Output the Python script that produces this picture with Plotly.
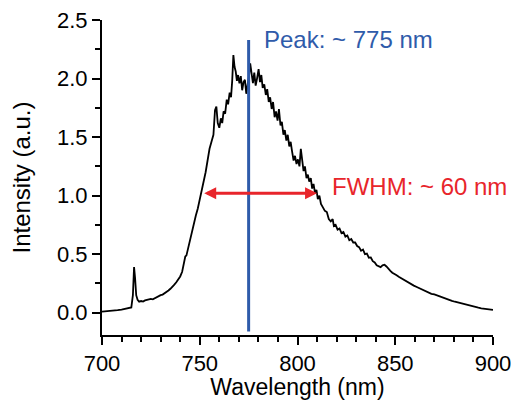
import plotly.graph_objects as go

wavelength = [700, 702, 704, 706, 708, 710, 712, 714, 715, 715.8, 716.4, 716.9, 717.5, 718.2, 719,
              720, 721, 722, 723, 724, 725, 726, 727, 728, 729, 730, 731, 732, 733, 734, 735,
              736, 737, 738, 739, 740, 741, 742, 742.6, 743.2, 744, 745, 746, 747, 748, 749,
              750, 751, 752, 753, 754, 755, 756, 757, 757.8, 758.5, 759.2, 760, 760.8, 761.5,
              762.2, 763, 763.8, 764.5, 765.3, 766, 766.6, 767.2, 767.8, 768.4, 769, 769.6,
              770.3, 771, 771.7, 772.4, 773.1, 773.8, 774.5, 775.2, 775.8, 776.5, 777.2, 777.9,
              778.6, 779.3, 780.1, 780.8, 781.5, 782.2, 783, 783.8, 784.5, 785.3, 786, 786.8,
              787.5, 788.3, 789, 789.8, 790.5, 791.3, 792, 792.8, 793.5, 794.3, 795, 795.8,
              796.5, 797.2, 798, 798.7, 799.5, 800.2, 801, 801.7, 802.4, 803.1, 803.8, 804.6,
              805.3, 806, 806.8, 807.5, 808.2, 809, 809.7, 810.4, 811.2, 812, 813, 814, 815,
              816, 817, 818, 818.6, 819.5, 820.5, 821.5, 822.5, 823.5, 824.5, 825.5, 826.5,
              827.5, 828.5, 829.5, 830.5, 831.5, 832.5, 833.5, 834.5, 835.5, 836.5, 837.5,
              838.5, 839.5, 840.5, 841.5, 842.5, 843.5, 844.5, 845.5, 846.5, 847.5, 848.5,
              849.5, 850.5, 852, 853.5, 855, 856.5, 858, 859.5, 861, 862.5, 864, 865.5, 867,
              868.5, 870, 871.5, 873, 874.5, 876, 877.5, 879, 880.5, 882, 883.5, 885, 886.5,
              888, 889.5, 891, 892.5, 894, 895.5, 897, 898.5, 900]

intensity = [0.010, 0.012, 0.015, 0.018, 0.022, 0.027, 0.032, 0.040, 0.045, 0.15, 0.39, 0.30, 0.15, 0.11, 0.095,
             0.100, 0.095, 0.105, 0.110, 0.112, 0.118, 0.115, 0.125, 0.128, 0.140, 0.150, 0.155, 0.165, 0.180, 0.190, 0.205,
             0.220, 0.240, 0.260, 0.285, 0.310, 0.350, 0.420, 0.480, 0.490, 0.550, 0.620, 0.690, 0.760, 0.830, 0.890,
             0.970, 1.020, 1.100, 1.200, 1.300, 1.400, 1.460, 1.520, 1.730, 1.760, 1.620, 1.580, 1.660, 1.620,
             1.720, 1.700, 1.820, 1.780, 1.880, 1.840, 1.980, 2.200, 2.100, 2.060, 1.980, 2.030,
             1.960, 2.020, 1.900, 1.970, 1.990, 1.870, 1.950, 2.020, 2.130, 2.020, 1.960, 2.050,
             1.940, 2.000, 2.080, 1.970, 2.030, 1.920, 1.950, 1.860, 1.910, 1.800, 1.840, 1.740,
             1.800, 1.670, 1.720, 1.640, 1.740, 1.600, 1.630, 1.520, 1.560, 1.470, 1.520, 1.420,
             1.460, 1.380, 1.300, 1.340, 1.270, 1.310, 1.250, 1.400, 1.300, 1.210, 1.250, 1.150,
             1.180, 1.120, 1.150, 1.060, 1.100, 1.020, 1.050, 0.970, 1.000, 0.930, 0.900, 0.870, 0.860,
             0.800, 0.780, 0.800, 0.740, 0.750, 0.710, 0.720, 0.680, 0.690, 0.650, 0.660, 0.620,
             0.630, 0.600, 0.600, 0.570, 0.560, 0.530, 0.540, 0.500, 0.505, 0.470, 0.472,
             0.440, 0.430, 0.405, 0.395, 0.390, 0.405, 0.410, 0.395, 0.372, 0.358, 0.342,
             0.334, 0.322, 0.305, 0.290, 0.272, 0.258, 0.245, 0.232, 0.220, 0.208, 0.194, 0.183, 0.172,
             0.162, 0.156, 0.146, 0.136, 0.127, 0.118, 0.112, 0.102, 0.094, 0.087, 0.081, 0.072, 0.066,
             0.058, 0.053, 0.048, 0.043, 0.038, 0.034, 0.030, 0.028, 0.025]

peak_x = [775, 775]
peak_y = [-0.16, 2.33]
fwhm_left, fwhm_right, fwhm_y = 751.5, 810, 1.02

BLUE = "#2F5BAA"
RED = "#E8252B"
FONT = "Liberation Sans, Arial, sans-serif"

fig = go.Figure()
fig.add_trace(go.Scatter(x=wavelength, y=intensity, mode="lines",
                         line=dict(color="black", width=1.8), showlegend=False))
fig.add_trace(go.Scatter(x=peak_x, y=peak_y, mode="lines",
                         line=dict(color=BLUE, width=3), showlegend=False))

fig.add_annotation(x=fwhm_right, y=fwhm_y, ax=fwhm_left, ay=fwhm_y, xref="x", yref="y",
                   axref="x", ayref="y", text="", showarrow=True, arrowhead=2,
                   arrowside="end+start", arrowsize=0.8, arrowwidth=3, arrowcolor=RED)
fig.add_annotation(x=781.9, y=2.33, xref="x", yref="y", text="Peak: ~ 775 nm",
                   showarrow=False, xanchor="left", yanchor="middle",
                   font=dict(family=FONT, size=24, color=BLUE))
fig.add_annotation(x=816.7, y=1.074, xref="x", yref="y", text="FWHM: ~ 60 nm",
                   showarrow=False, xanchor="left", yanchor="middle",
                   font=dict(family=FONT, size=24, color=RED))

fig.update_layout(
    width=516, height=400,
    margin=dict(l=102, r=23, t=20, b=65),
    paper_bgcolor="white", plot_bgcolor="white",
    font=dict(family=FONT, size=22, color="black"),
)
fig.update_xaxes(range=[700, 900], tickmode="linear", tick0=700, dtick=50, automargin=False,
                 ticks="outside", ticklen=8, tickwidth=2, tickcolor="black",
                 showline=True, linewidth=2, linecolor="black", showgrid=False, zeroline=False,
                 minor=dict(ticks="outside", dtick=10, ticklen=5, tickwidth=2, tickcolor="black", showgrid=False),
                 title=dict(text="Wavelength (nm)", font=dict(size=23), standoff=5))
fig.update_yaxes(range=[-0.19, 2.5], tickmode="linear", tick0=0, dtick=0.5, tickformat=".1f", automargin=False,
                 ticks="outside", ticklen=8, tickwidth=2, tickcolor="black",
                 showline=True, linewidth=2, linecolor="black", showgrid=False, zeroline=False,
                 minor=dict(ticks="outside", dtick=0.25, ticklen=5, tickwidth=2, tickcolor="black", showgrid=False),
                 title=dict(text="Intensity (a.u.)", font=dict(size=24), standoff=20))

fig.write_html("out.html")
